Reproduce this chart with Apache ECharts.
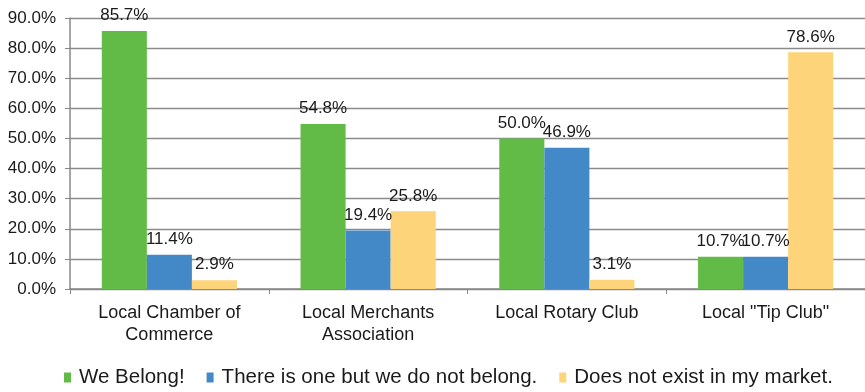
<!DOCTYPE html>
<html>
<head>
<meta charset="utf-8">
<script src="https://cdn.jsdelivr.net/npm/echarts@6/dist/echarts.min.js"></script>
<style>
html,body{margin:0;padding:0;background:#fff;}
#chart{width:865px;height:392px;}
</style>
</head>
<body>
<div id="chart"></div>
<script>
// Survey results: membership in local business groups (percent of respondents)
const categories = ['Local Chamber of\nCommerce', 'Local Merchants\nAssociation', 'Local Rotary Club', 'Local "Tip Club"'];
const weBelong = [85.7, 54.8, 50.0, 10.7];
const notBelong = [11.4, 19.4, 46.9, 10.7];
const notExist = [2.9, 25.8, 3.1, 78.6];
const seriesNames = ['We Belong!', 'There is one but we do not belong.', 'Does not exist in my market.'];

const font = 'Liberation Sans, Arial, sans-serif';
const colors = ['#62bb46', '#4389c8', '#fdd47a'];

function barSeries(name, data, color) {
  return {
    name: name,
    type: 'bar',
    data: data,
    barGap: '0%',
    barCategoryGap: '32%',
    itemStyle: { color: color },
    label: {
      show: true,
      position: 'top',
      distance: 7,
      color: '#1a1a1a',
      fontFamily: font,
      fontSize: 17,
      formatter: p => p.value.toFixed(1) + '%'
    }
  };
}

const chart = echarts.init(document.getElementById('chart'));
chart.setOption({
  animation: false,
  backgroundColor: '#fff',
  grid: { left: 70, right: 0, top: 18, bottom: 103 },
  legend: {
    top: 362,
    left: 59,
    icon: 'rect',
    itemWidth: 7,
    itemHeight: 10,
    itemGap: 22,
    textStyle: { fontFamily: font, fontSize: 20.5, color: '#1a1a1a', padding: [0, 0, 0, 3] },
    data: seriesNames
  },
  xAxis: {
    type: 'category',
    data: categories,
    axisLine: { lineStyle: { color: '#888', width: 1.5 } },
    axisTick: { show: true, length: 5, lineStyle: { color: '#888' } },
    axisLabel: { fontFamily: font, fontSize: 18, color: '#1a1a1a', margin: 13, lineHeight: 22 }
  },
  yAxis: {
    type: 'value',
    min: 0,
    max: 90,
    interval: 10,
    axisLine: { show: true, lineStyle: { color: '#888', width: 1.5 } },
    axisTick: { show: true, length: 5, lineStyle: { color: '#888' } },
    splitLine: { lineStyle: { color: '#8a8a8a', width: 1.3 } },
    axisLabel: { fontFamily: font, fontSize: 17, color: '#1a1a1a', margin: 14, formatter: v => v.toFixed(1) + '%' }
  },
  series: [
    barSeries(seriesNames[0], weBelong, colors[0]),
    barSeries(seriesNames[1], notBelong, colors[1]),
    barSeries(seriesNames[2], notExist, colors[2])
  ]
});
</script>
</body>
</html>
